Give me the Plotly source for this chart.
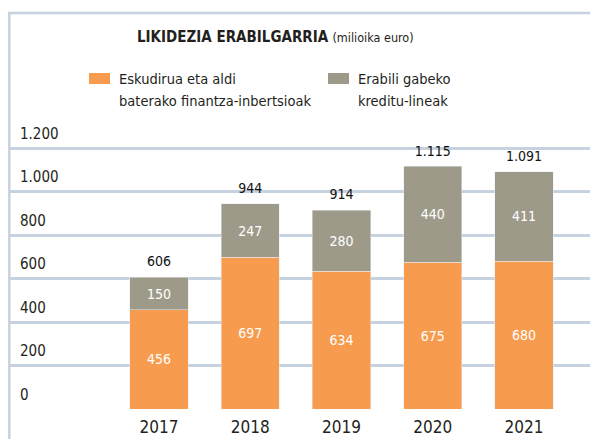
import plotly.graph_objects as go

years = ["2017", "2018", "2019", "2020", "2021"]
cash = [456, 697, 634, 675, 680]
credit = [150, 247, 280, 440, 411]
totals = [606, 944, 914, 1115, 1091]
y_ticks = [0, 200, 400, 600, 800, 1000, 1200]
y_ticktext = ["0", "200", "400", "600", "800", "1.000", "1.200"]
series_names = ["Eskudirua eta aldi<br>baterako finantza-inbertsioak",
                "Erabili gabeko<br>kreditu-lineak"]

ORANGE = "#F79C4E"
GREY = "#9E9A89"
GRID = "#C6D2DF"
TXT = "#231f20"
FONT = "Liberation Sans Narrow, DejaVu Sans Condensed, Arial Narrow, sans-serif"

OFF = 8  # browser body margin
W, H = 598 - OFF, 439 - OFF
L, R = 1, 0
T = 120 - OFF
ZERO = 409 - OFF  # pixel (figure coords) of value 0
B = H - ZERO
PW, PH = W - L - R, H - T - B
K = 261 / 1200  # px per unit
YMAX = PH / K
STEP = 91.25
C0 = 159 - OFF  # centre of first bar


def px(x):  # reference pixel -> paper
    return (x - OFF - L) / PW


def py(y):
    return (ZERO - (y - OFF)) / PH


def fmt(v):
    return f"{v:,}".replace(",", ".")


fig = go.Figure()
for vals, name, col in [(cash, series_names[0], ORANGE), (credit, series_names[1], GREY)]:
    fig.add_trace(go.Bar(x=years, y=vals, name=name, marker_color=col,
                         text=[fmt(v) for v in vals], textposition="inside",
                         insidetextanchor="middle", textangle=0,
                         textfont=dict(color="white", size=14, family=FONT),
                         width=0.636, showlegend=False, hoverinfo="skip"))
fig.add_trace(go.Scatter(x=years, y=totals, mode="markers+text",
                         marker=dict(size=10, opacity=0),
                         text=[fmt(v) for v in totals], textposition="top center",
                         textfont=dict(color="#111111", size=14, family=FONT),
                         showlegend=False, hoverinfo="skip"))

shapes = [
    dict(type="line", xref="paper", yref="paper", x0=px(9.3), x1=px(9.3), y0=py(12), y1=py(450),
         line=dict(color=GRID, width=2.5)),
    dict(type="line", xref="paper", yref="paper", x0=px(8), x1=px(610), y0=py(13), y1=py(13),
         line=dict(color=GRID, width=2.5)),
    dict(type="rect", xref="paper", yref="paper", x0=px(89), x1=px(110), y0=py(73), y1=py(84),
         fillcolor=ORANGE, line=dict(width=0)),
    dict(type="rect", xref="paper", yref="paper", x0=px(328), x1=px(349), y0=py(73), y1=py(84),
         fillcolor=GREY, line=dict(width=0)),
]

annotations = [
    dict(xref="paper", yref="paper", x=px(275), y=py(37), showarrow=False,
         text="<b>LIKIDEZIA ERABILGARRIA</b> <span style='font-size:12.5px'>(milioika euro)</span>",
         font=dict(size=15, family=FONT, color=TXT), xanchor="center", yanchor="middle"),
]
for xs, name in zip([117, 356], series_names):
    for i, line in enumerate(name.split("<br>")):
        annotations.append(dict(xref="paper", yref="paper", x=px(xs), y=py(79 + 22 * i),
                                showarrow=False, text=line, xanchor="left", yanchor="middle",
                                font=dict(size=14.5, family=FONT, color=TXT)))

fig.update_layout(
    width=W, height=H,
    margin=dict(l=L, r=R, t=T, b=B, pad=0),
    paper_bgcolor="white", plot_bgcolor="white",
    barmode="stack",
    separators=",.",
    shapes=shapes, annotations=annotations,
    xaxis=dict(type="category", range=[-(C0 - L) / STEP, (W - C0) / STEP],
               showgrid=False, zeroline=False, showline=False, ticks="",
               ticklabelstandoff=6,
               tickfont=dict(size=17, family=FONT, color=TXT), fixedrange=True),
    yaxis=dict(range=[0, YMAX], tickvals=y_ticks, ticktext=y_ticktext,
               showgrid=True, gridcolor=GRID, gridwidth=2.5, zeroline=False,
               showline=False, ticklabelposition="inside top", ticklabelstandoff=8,
               ticklabelshift=-4,
               tickfont=dict(size=15, family=FONT, color=TXT), fixedrange=True),
)

fig.write_html("out.html")
